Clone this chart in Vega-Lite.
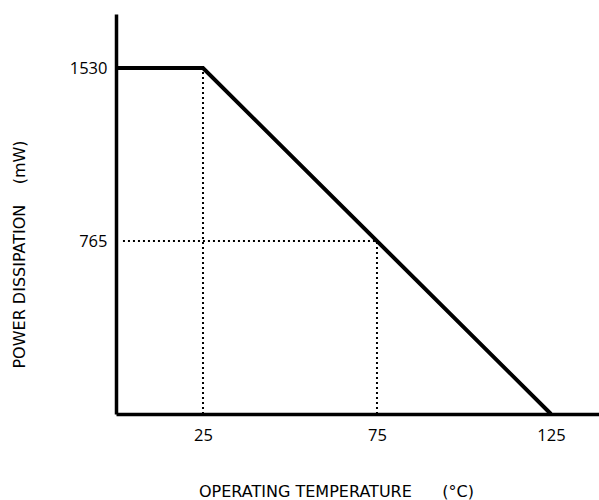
{
  "$schema": "https://vega.github.io/schema/vega-lite/v6.json",
  "width": 483,
  "height": 400,
  "autosize": {"type": "none"},
  "padding": {"left": 116, "top": 14, "right": 0, "bottom": 86},
  "background": "white",
  "config": {
    "view": {"stroke": null},
    "font": "Open Sans",
    "axis": {"grid": false, "ticks": false, "domainColor": "black", "domainWidth": 3.5, "labelColor": "black", "titleColor": "black", "labelFont": "Open Sans", "titleFont": "DejaVu Sans", "labelFontSize": 16.5, "titleFontSize": 16, "titleFontWeight": "normal"}
  },
  "datasets": {
    "curve": [
      {"temp": 0, "power": 1530},
      {"temp": 25, "power": 1530},
      {"temp": 125, "power": 0}
    ],
    "guides": [
      {"x1": 25, "x2": 25, "y1": 0, "y2": 1530},
      {"x1": 2, "x2": 75, "y1": 765, "y2": 765},
      {"x1": 75, "x2": 75, "y1": 0, "y2": 765}
    ]
  },
  "layer": [
    {
      "data": {"name": "guides"},
      "mark": {"type": "rule", "color": "black", "strokeWidth": 2, "strokeDash": [2, 3]},
      "encoding": {
        "x": {"field": "x1", "type": "quantitative", "scale": {"domain": [0, 138.8], "nice": false, "zero": false}},
        "x2": {"field": "x2"},
        "y": {"field": "y1", "type": "quantitative", "scale": {"domain": [0, 1769], "nice": false}},
        "y2": {"field": "y2"}
      }
    },
    {
      "data": {"name": "curve"},
      "mark": {"type": "line", "color": "black", "strokeWidth": 4, "strokeJoin": "miter"},
      "encoding": {
        "x": {"field": "temp", "type": "quantitative", "scale": {"domain": [0, 138.8], "nice": false, "zero": false},
          "axis": {"values": [25, 75, 125], "format": "d", "labelPadding": 13, "title": "OPERATING TEMPERATURE\u00a0\u00a0\u00a0\u00a0\u00a0\u00a0(°C)", "titleX": 220, "titleY": 77, "titleAnchor": "middle", "titleAlign": "center", "titleBaseline": "middle", "labelFlush": false}},
        "y": {"field": "power", "type": "quantitative", "scale": {"domain": [0, 1769], "nice": false},
          "axis": {"values": [765, 1530], "format": "d", "labelPadding": 9, "title": "POWER DISSIPATION\u00a0\u00a0\u00a0\u00a0(mW)", "titleX": -97, "titleY": 240, "titleAngle": -90, "titleAlign": "center", "titleBaseline": "middle", "labelFlush": false}}
      }
    }
  ]
}
